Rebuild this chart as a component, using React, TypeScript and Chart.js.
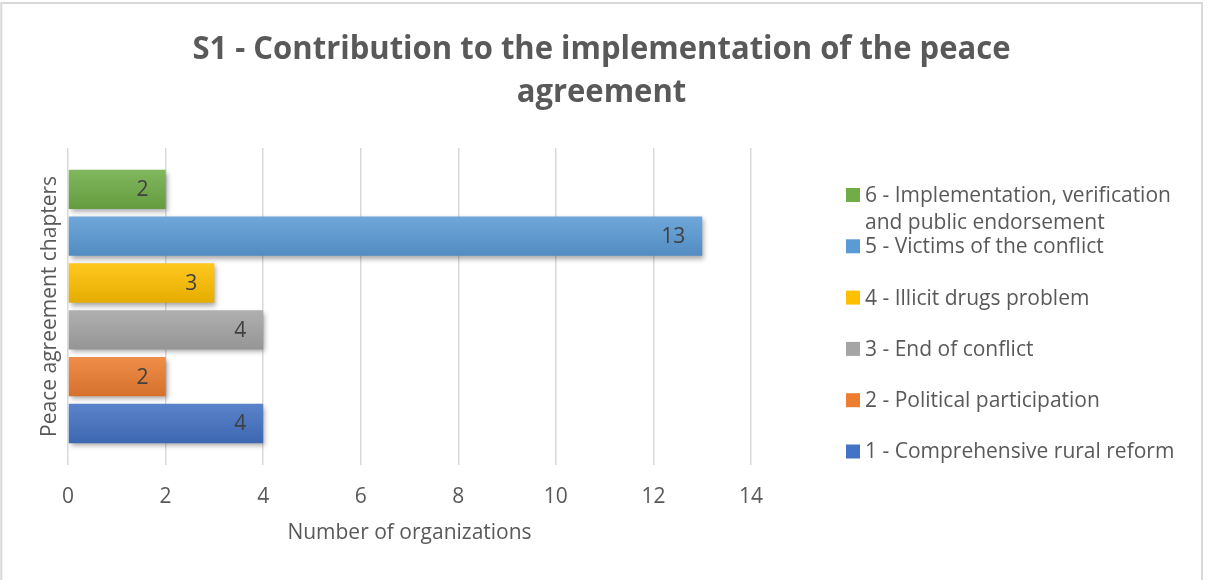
import { useEffect, useRef } from "react";
import { Chart, registerables } from "chart.js";

Chart.register(...registerables);

// ---- data ----
const titleLines = ["S1 - Contribution to the implementation of the peace", "agreement"];
const categoryLabels = [""];
const chapterLabels = [
  "1 - Comprehensive rural reform",
  "2 - Political participation",
  "3 - End of conflict",
  "4 - Illicit drugs problem",
  "5 - Victims of the conflict",
  "6 - Implementation, verification and public endorsement",
];
const organizationCounts = [4, 2, 4, 3, 13, 2];
const chapterColors = ["#4472C4", "#ED7D31", "#A5A5A5", "#FFC000", "#5B9BD5", "#70AD47"];
const xAxisTitle = "Number of organizations";
const yAxisTitle = "Peace agreement chapters";
const xMin = 0;
const xMax = 14;
const xStep = 2;

const FONT = '"Open Sans", "Noto Sans", sans-serif';
const TEXT = "#595959";

function shade(hex: string, amt: number): string {
  const n = parseInt(hex.slice(1), 16);
  let r = (n >> 16) & 255, g = (n >> 8) & 255, b = n & 255;
  const f = (c: number) =>
    Math.round(amt >= 0 ? c + (255 - c) * amt : c * (1 + amt));
  r = f(r); g = f(g); b = f(b);
  return `rgb(${r},${g},${b})`;
}

function wrap(ctx: CanvasRenderingContext2D, text: string, maxW: number): string[] {
  const words = text.split(" ");
  const lines: string[] = [];
  let cur = "";
  for (const w of words) {
    const t = cur ? cur + " " + w : w;
    if (cur && ctx.measureText(t).width > maxW) {
      lines.push(cur);
      cur = w;
    } else cur = t;
  }
  if (cur) lines.push(cur);
  return lines;
}

const decorPlugin = {
  id: "decor",
  beforeDraw(chart: any) {
    const { ctx, width, height } = chart;
    ctx.save();
    ctx.fillStyle = "#ffffff";
    ctx.fillRect(0, 0, width, height);
    ctx.strokeStyle = "#d9d9d9";
    ctx.lineWidth = 2;
    ctx.strokeRect(1.3, 3, 1200.7, 620);
    ctx.restore();
  },
  beforeDatasetDraw(chart: any, args: any) {
    const ctx = chart.ctx;
    const base = chart.data.datasets[args.index].backgroundColor as string;
    args.meta.data.forEach((el: any) => {
      const { y, height } = el.getProps(["y", "height"], true);
      const g = ctx.createLinearGradient(0, y - height / 2, 0, y + height / 2);
      g.addColorStop(0, shade(base, 0.12));
      g.addColorStop(1, shade(base, -0.1));
      el.options = Object.assign({}, el.options, { backgroundColor: g });
    });
    ctx.save();
    ctx.shadowColor = "rgba(0,0,0,0.35)";
    ctx.shadowBlur = 5;
    ctx.shadowOffsetX = 2;
    ctx.shadowOffsetY = 3;
  },
  afterDatasetDraw(chart: any) {
    chart.ctx.restore();
  },
  afterDraw(chart: any) {
    const { ctx, chartArea } = chart;
    ctx.save();
    // data labels
    ctx.font = `21px ${FONT}`;
    ctx.fillStyle = "#404040";
    ctx.textAlign = "right";
    ctx.textBaseline = "middle";
    chart.data.datasets.forEach((ds: any, di: number) => {
      const meta = chart.getDatasetMeta(di);
      meta.data.forEach((el: any, j: number) => {
        const { x, y } = el.getProps(["x", "y"], true);
        ctx.fillText(String(ds.data[j]), x - 17, y + 1);
      });
    });

    // title
    ctx.fillStyle = TEXT;
    ctx.font = `bold 33px ${FONT}`;
    ctx.textAlign = "center";
    ctx.textBaseline = "alphabetic";
    const sx = 818 / ctx.measureText(titleLines[0]).width;
    titleLines.forEach((t, i) => {
      ctx.save();
      ctx.translate(601.5, 59 + i * 43);
      ctx.scale(sx, 1);
      ctx.fillText(t, 0, 0);
      ctx.restore();
    });

    // axis titles
    ctx.font = `21px ${FONT}`;
    ctx.textBaseline = "middle";
    ctx.fillText(xAxisTitle, (chartArea.left + chartArea.right) / 2, 533);
    ctx.save();
    ctx.translate(50, (chartArea.top + chartArea.bottom) / 2);
    ctx.rotate(-Math.PI / 2);
    ctx.fillText(yAxisTitle, 0, 0);
    ctx.restore();

    // legend
    ctx.textAlign = "left";
    chapterLabels.forEach((label, k) => {
      const cy = 451.5 - k * 51.3;
      ctx.fillStyle = chapterColors[k];
      ctx.fillRect(846, cy - 7, 14, 14);
      ctx.fillStyle = TEXT;
      wrap(ctx, label, 330).forEach((ln, li) => ctx.fillText(ln, 865, cy + 1 + li * 27));
    });
    ctx.restore();
  },
};

export default function App() {
  const ref = useRef<HTMLCanvasElement>(null);
  useEffect(() => {
    document.body.style.margin = "0";
    const canvas = ref.current!;
    const order = chapterLabels.map((_, i) => i).reverse();
    const datasets = order.map((i) => ({
      label: chapterLabels[i],
      data: [organizationCounts[i]],
      backgroundColor: chapterColors[i],
      borderWidth: 0,
      categoryPercentage: 0.887,
      barPercentage: 0.84,
    }));
    const chart = new Chart(canvas, {
      type: "bar",
      data: { labels: categoryLabels, datasets },
      options: {
        indexAxis: "y",
        animation: false,
        responsive: false,
        events: [],
        layout: { padding: { left: 68, right: 461, top: 148, bottom: 50 } },
        plugins: {
          legend: { display: false },
          title: { display: false },
          tooltip: { enabled: false },
        },
        scales: {
          x: {
            min: xMin,
            max: xMax,
            ticks: {
              stepSize: xStep,
              color: TEXT,
              font: { family: FONT, size: 21 },
              padding: 20,
            },
            grid: { color: "#d9d9d9", lineWidth: 1.5, drawTicks: false },
            border: { display: false },
          },
          y: { display: false },
        },
      },
      plugins: [decorPlugin as any],
    });
    return () => chart.destroy();
  }, []);
  return <canvas ref={ref} width={1212} height={580} style={{ display: "block" }} />;
}
